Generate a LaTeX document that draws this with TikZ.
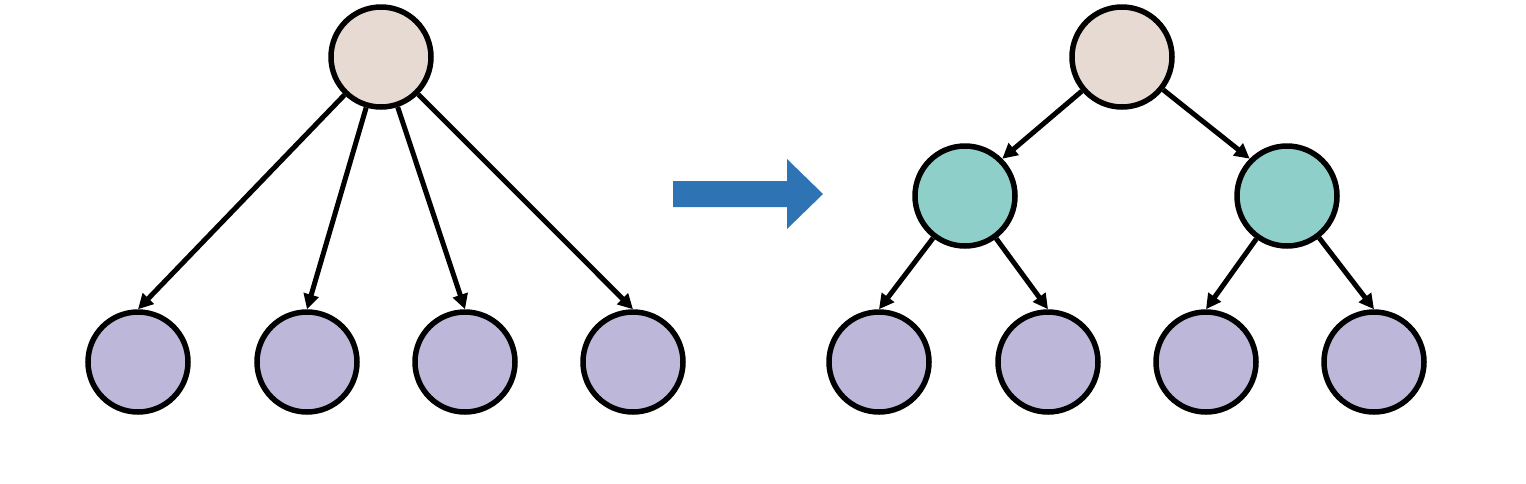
\documentclass[tikz,border=0pt]{standalone}
\usetikzlibrary{arrows.meta}
\definecolor{rootc}{HTML}{E6DAD2}
\definecolor{midc}{HTML}{8FCFC9}
\definecolor{leafc}{HTML}{BDB7DA}
\definecolor{bluec}{HTML}{2E74B5}
\tikzset{
  nd/.style={circle, draw=black, line width=5.5pt, inner sep=0pt, minimum size=100pt},
  rootn/.style={nd, fill=rootc},
  midn/.style={nd, fill=midc},
  leafn/.style={nd, fill=leafc},
  edge/.style={line width=5pt, -{Triangle[length=15pt,width=15pt]}},
}
\begin{document}
\begin{tikzpicture}[x=1pt,y=-1pt]
\useasboundingbox (0,0) rectangle (1526,483);
% left tree
\node[rootn] (r1) at (381,57) {};
\node[leafn] (a1) at (138,362) {};
\node[leafn] (a2) at (307,362) {};
\node[leafn] (a3) at (465,362) {};
\node[leafn] (a4) at (633,362) {};
\foreach \t in {a1,a2,a3,a4} \draw[edge] (r1) -- (\t.north);
% blue arrow
\fill[bluec] (673,181) -- (787,181) -- (787,159) -- (823,194) -- (787,229) -- (787,207) -- (673,207) -- cycle;
% right tree
\node[rootn] (r2) at (1122,57) {};
\node[midn] (m1) at (965,196) {};
\node[midn] (m2) at (1287,196) {};
\node[leafn] (b1) at (879,362) {};
\node[leafn] (b2) at (1048,362) {};
\node[leafn] (b3) at (1206,362) {};
\node[leafn] (b4) at (1374,362) {};
\draw[edge] (r2) -- (m1.north east);
\draw[edge] (r2) -- (m2.north west);
\draw[edge] (m1) -- (b1.north);
\draw[edge] (m1) -- (b2.north);
\draw[edge] (m2) -- (b3.north);
\draw[edge] (m2) -- (b4.north);
\end{tikzpicture}
\end{document}
